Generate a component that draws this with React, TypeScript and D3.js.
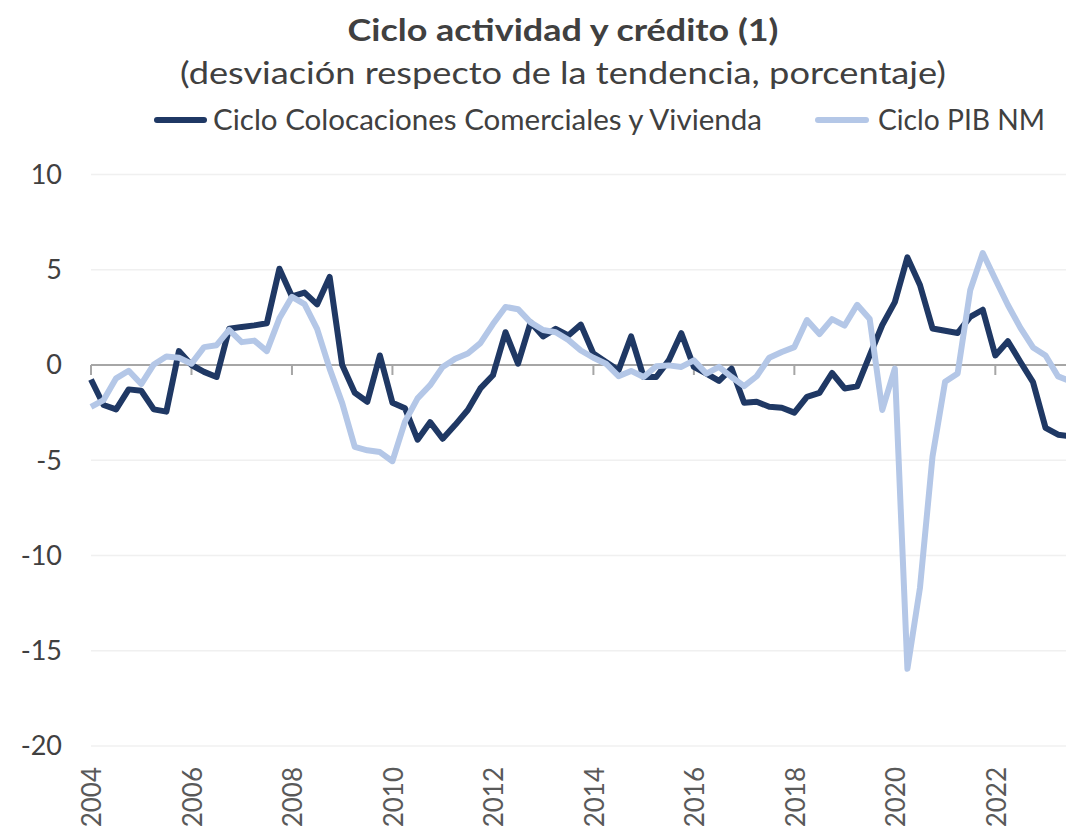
import React from 'react';
import * as d3 from 'd3';

const startYear = 2004;
const colocaciones = [
  -0.76, -2.1, -2.33, -1.28, -1.35, -2.33, -2.45, 0.73,
  0.0, -0.36, -0.63, 1.9, 2.0, 2.08, 2.19, 5.05,
  3.6, 3.8, 3.18, 4.62, 0.0, -1.46, -1.93, 0.5,
  -1.98, -2.27, -3.92, -3.0, -3.87, -3.14, -2.36, -1.23,
  -0.54, 1.72, 0.07, 2.24, 1.5, 1.9, 1.55, 2.12,
  0.6, 0.16, -0.28, 1.5, -0.63, -0.63, 0.24, 1.67,
  -0.1, -0.45, -0.83, -0.19, -1.98, -1.93, -2.19, -2.24,
  -2.5, -1.67, -1.46, -0.42, -1.23, -1.12, 0.5, 2.1,
  3.3, 5.65, 4.2, 1.92, 1.8, 1.68, 2.53, 2.9,
  0.5, 1.25, 0.16, -0.9, -3.3, -3.66, -3.75,
];
const pibNM = [
  -2.2, -1.84, -0.7, -0.3, -1.0, 0.03, 0.45, 0.38,
  0.07, 0.94, 1.04, 1.84, 1.2, 1.28, 0.73, 2.45,
  3.58, 3.2, 1.9, -0.19, -2.0, -4.3, -4.48, -4.57,
  -5.05, -2.97, -1.75, -1.06, -0.1, 0.33, 0.6, 1.15,
  2.15, 3.05, 2.93, 2.24, 1.84, 1.72, 1.32, 0.76,
  0.38, 0.07, -0.59, -0.31, -0.63, -0.07, -0.02, -0.1,
  0.24, -0.45, -0.1, -0.63, -1.11, -0.59, 0.38, 0.68,
  0.94, 2.36, 1.63, 2.41, 2.07, 3.16, 2.41, -2.36,
  -0.19, -15.95, -11.7, -4.8, -0.88, -0.44, 3.92, 5.88,
  4.5, 3.15, 1.95, 0.92, 0.5, -0.6, -0.85,
];
const yTicks = [10, 5, 0, -5, -10, -15, -20];
const xTickYears = [2004, 2006, 2008, 2010, 2012, 2014, 2016, 2018, 2020, 2022];
const seriesNames = ['Ciclo Colocaciones Comerciales y Vivienda', 'Ciclo PIB NM'];
const titleText = 'Ciclo actividad y crédito (1)';
const subtitleText = '(desviación respecto de la tendencia, porcentaje)';

const DARK = '#1f3864';
const LIGHT = '#b4c7e7';
const TEXT = '#404040';
const FONT = 'Lato, "Open Sans", sans-serif';

export default function App() {
  const W = 1066;
  const H = 830;
  const x = d3.scaleLinear().domain([2004, 2024]).range([91, 91 + 80 * 12.56]);
  const y = d3.scaleLinear().domain([-20, 10]).range([746, 174.5]);
  const line = d3
    .line<number>()
    .x((_, i) => x(startYear + i / 4))
    .y((d) => y(d));

  return (
    <svg
      width={W}
      height={H}
      style={{ position: 'absolute', left: 0, top: 0, background: '#fff' }}
      fontFamily={FONT}
    >
      <rect x={0} y={0} width={W} height={H} fill="#fff" />
      <text x={563} y={41} textAnchor="middle" fontWeight="bold" fontSize={31} fill={TEXT}
        textLength={431} lengthAdjust="spacingAndGlyphs">
        {titleText}
      </text>
      <text x={563} y={84} textAnchor="middle" fontSize={31} fill={TEXT}
        textLength={766} lengthAdjust="spacingAndGlyphs">
        {subtitleText}
      </text>
      {/* legend */}
      <line x1={157} x2={204} y1={120} y2={120} stroke={DARK} strokeWidth={6} strokeLinecap="round" />
      <text x={213} y={130} fontSize={28} fill={TEXT} textLength={549} lengthAdjust="spacingAndGlyphs">
        {seriesNames[0]}
      </text>
      <line x1={818} x2={866} y1={120} y2={120} stroke={LIGHT} strokeWidth={6} strokeLinecap="round" />
      <text x={878} y={130} fontSize={28} fill={TEXT} textLength={167} lengthAdjust="spacingAndGlyphs">
        {seriesNames[1]}
      </text>

      {/* gridlines */}
      {yTicks.filter((t) => t !== 0).map((t) => (
        <line key={t} x1={91} x2={W} y1={y(t)} y2={y(t)} stroke="#f0f0f0" strokeWidth={1.5} />
      ))}
      {/* y labels */}
      {yTicks.map((t) => (
        <text key={'yl' + t} x={62} y={y(t)} dy="0.35em" textAnchor="end" fontSize={27} fill={TEXT}>
          {t}
        </text>
      ))}
      {/* zero axis */}
      <line x1={91} x2={W} y1={y(0)} y2={y(0)} stroke="#a6a6a6" strokeWidth={2} />
      {xTickYears.map((yr) => (
        <line key={'t' + yr} x1={x(yr)} x2={x(yr)} y1={y(0)} y2={y(0) + 10} stroke="#a6a6a6" strokeWidth={2} />
      ))}
      {/* x labels */}
      {xTickYears.map((yr) => (
        <text key={'xl' + yr} transform={`translate(${x(yr) + 1},767) rotate(-90)`} textAnchor="end"
          dy="0.36em" fontSize={26} fill="#595959">
          {yr}
        </text>
      ))}
      {/* series */}
      <path d={line(colocaciones) || ''} fill="none" stroke={DARK} strokeWidth={6} strokeLinejoin="round" />
      <path d={line(pibNM) || ''} fill="none" stroke={LIGHT} strokeWidth={6} strokeLinejoin="round" />
    </svg>
  );
}
